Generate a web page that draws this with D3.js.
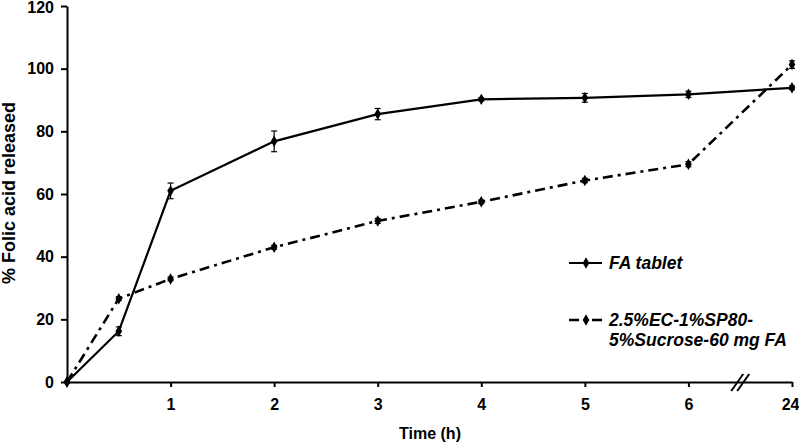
<!DOCTYPE html>
<html><head><meta charset="utf-8">
<script src="https://cdn.jsdelivr.net/npm/d3@7/dist/d3.min.js"></script>
<style>
html,body{margin:0;padding:0;background:#fff;}
svg{display:block;}
text{font-family:"Liberation Sans",Arial,sans-serif;font-weight:bold;fill:#000;}
</style></head>
<body><svg id="c" width="799" height="445"></svg>
<script>
// Data
const timeLabels = ["0", "0.5", "1", "2", "3", "4", "5", "6", "24"];
const timePos = [0, 0.5, 1, 2, 3, 4, 5, 6, 7]; // axis position (break between 6 and 24)
const faTablet = [0, 16.2, 61, 76.8, 85.5, 90.2, 90.7, 91.8, 93.9];
const faTabletErr = [0, 1.4, 2.5, 3.3, 1.8, 0.5, 1.4, 1.0, 0.6];
const ecSucrose = [0, 26.6, 32.9, 43.0, 51.4, 57.5, 64.3, 69.5, 101.3];
const ecSucroseErr = [0, 0.6, 0.6, 0.6, 0.8, 0.6, 0.7, 0.8, 1.2];
const xTicks = [1, 2, 3, 4, 5, 6, 7];
const xTickLabels = ["1", "2", "3", "4", "5", "6", "24"];
const yTicks = [0, 20, 40, 60, 80, 100, 120];
const seriesNames = ["FA tablet", "2.5%EC-1%SP80-", "5%Sucrose-60 mg FA"];

const svg = d3.select("#c");
const x = d3.scaleLinear().domain([0, 7]).range([67, 792]);
const y = d3.scaleLinear().domain([0, 120]).range([382, 6]);

// Axes
const xAxis = d3.axisBottom(x).tickValues(xTicks).tickFormat((d,i)=>xTickLabels[i]).tickSize(5).tickSizeOuter(0);
const gx = svg.append("g").attr("transform","translate(0,382)").call(xAxis);
gx.select(".domain").attr("stroke","#000").attr("stroke-width",2);
gx.selectAll(".tick line").attr("stroke","#000").attr("stroke-width",2);
gx.selectAll(".tick text").attr("font-size",16).attr("dy","1.25em").attr("font-family","Liberation Sans, Arial, sans-serif").attr("font-weight","bold");
// keep last label ("24") inside the picture, right-aligned at the edge
gx.selectAll(".tick text").filter(d=>d===7).attr("text-anchor","end").attr("x",7);

const yAxis = d3.axisLeft(y).tickValues(yTicks).tickSize(6).tickSizeOuter(0);
const gy = svg.append("g").attr("transform","translate(67,0)").call(yAxis);
gy.select(".domain").attr("stroke","#000").attr("stroke-width",2);
gy.selectAll(".tick line").attr("stroke","#000").attr("stroke-width",2);
gy.selectAll(".tick text").attr("font-size",16).attr("x",-13).attr("font-family","Liberation Sans, Arial, sans-serif").attr("font-weight","bold");
gy.selectAll(".tick text").filter(d=>d===120).attr("dy","0.42em");

// axis break marks
const bx = x(6.5);
[-3, 3].forEach(o => {
  svg.append("line").attr("x1", bx + o - 6).attr("y1", 391).attr("x2", bx + o + 6).attr("y2", 374)
    .attr("stroke","#000").attr("stroke-width",2);
});

// Axis titles
svg.append("text").attr("x", 430).attr("y", 439).attr("text-anchor","middle").attr("font-size",16).text("Time (h)");
svg.append("text").attr("transform","translate(15,193) rotate(-90)").attr("text-anchor","middle").attr("font-size",18).text("% Folic acid released");

// Series
const line = d3.line().x(d=>x(d[0])).y(d=>y(d[1]));
function drawSeries(vals, errs, dash, width){
  const pts = timePos.map((t,i)=>[t, vals[i], errs[i]]);
  svg.append("path").datum(pts).attr("d", line).attr("fill","none").attr("stroke","#000")
    .attr("stroke-width", width).attr("stroke-dasharray", dash);
  const eb = svg.append("g");
  pts.forEach(p=>{
    if(p[2] <= 0) return;
    const cx = x(p[0]);
    eb.append("line").attr("x1",cx).attr("x2",cx).attr("y1",y(p[1]-p[2])).attr("y2",y(p[1]+p[2])).attr("stroke","#000").attr("stroke-width",1.2);
    [p[1]-p[2], p[1]+p[2]].forEach(v=>{
      eb.append("line").attr("x1",cx-3).attr("x2",cx+3).attr("y1",y(v)).attr("y2",y(v)).attr("stroke","#000").attr("stroke-width",1.2);
    });
  });
  svg.append("g").selectAll("path").data(pts).join("path")
    .attr("d", d3.symbol(d3.symbolDiamond, 38))
    .attr("transform", d=>`translate(${x(d[0])},${y(d[1])})`).attr("fill","#000");
}
drawSeries(faTablet, faTabletErr, null, 2.2);
drawSeries(ecSucrose, ecSucroseErr, "10,5,3,5", 2.6);

// Legend
const lg = svg.append("g");
lg.append("line").attr("x1",569).attr("x2",602).attr("y1",263).attr("y2",263).attr("stroke","#000").attr("stroke-width",2.2);
lg.append("path").attr("d", d3.symbol(d3.symbolDiamond, 38)).attr("transform","translate(586,263)");
lg.append("text").attr("x",609).attr("y",269).attr("font-size",17.5).attr("font-style","italic").text(seriesNames[0]);

lg.append("line").attr("x1",569).attr("x2",602).attr("y1",320).attr("y2",320).attr("stroke","#000").attr("stroke-width",2.6).attr("stroke-dasharray","10,5,3,5");
lg.append("path").attr("d", d3.symbol(d3.symbolDiamond, 38)).attr("transform","translate(586,320)");
lg.append("text").attr("x",609).attr("y",326).attr("font-size",17.5).attr("font-style","italic").text(seriesNames[1]);
lg.append("text").attr("x",609).attr("y",346).attr("font-size",17.5).attr("font-style","italic").text(seriesNames[2]);
</script></body></html>
